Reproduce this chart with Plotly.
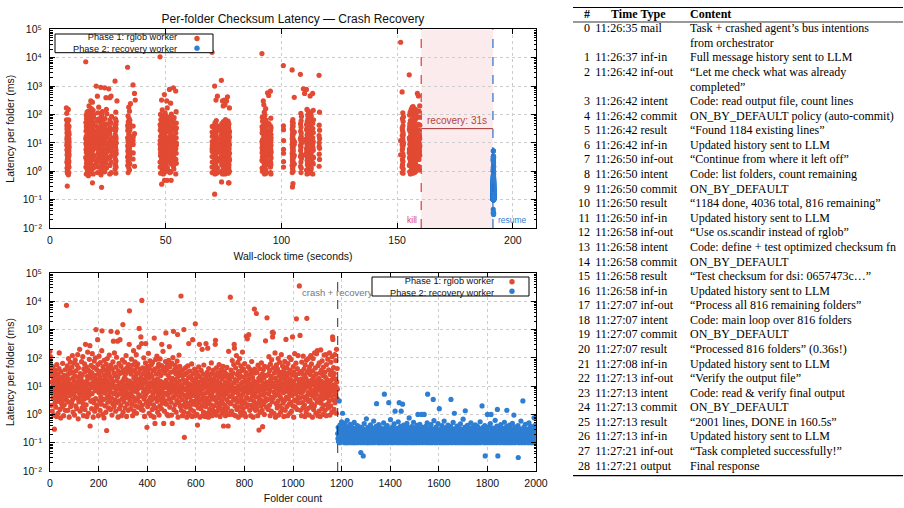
import numpy as np
import plotly.graph_objects as go

# ------------------------------------------------------------------ data
phase1_start_s = 6.9      # wall-clock second at which the rglob worker started
phase2_start_s = 191.5    # wall-clock second at which the recovery worker started
kill_s = 160.4            # worker killed
resume_s = 191.4          # recovery worker resumed
crash_folder = 1184       # folders finished before the crash

series_names = ["Phase 1: rglob worker", "Phase 2: recovery worker"]

# per-folder checksum latency (ms), phase 1, in completion order
phase1_latency_ms = [
    # batch 1
    170, 65, 110, 40, 8.2, 2.1, 14, 31, 5.6, 1.3, 22, 9.4, 3.8, 48, 12, 0.95, 17, 6.1, 0.30, 25,
    7.7, 2.6, 36, 11, 1.8, 4.5, 19, 0.85, 58, 13, 3.2, 8.9, 27, 1.1, 6.4, 15, 2.9, 42, 150, 5.1,
    9.8, 1.5, 21, 3.6, 0.75, 33, 7.2, 12, 2.4, 18, 4.8, 1.9, 64, 10, 3.3, 6.8, 0.9, 24, 8.5, 2.2,
    14, 5.3, 38, 1.4, 11, 3.9, 20, 7.1,
    # batch 2
    7200, 14, 3.1, 52, 9.6, 1.4, 26, 5.8, 95, 2.7, 17, 0.8, 38, 8.3, 4.6, 71, 12, 1.9, 29, 6.2,
    10, 2.5, 47, 7.9, 120, 3.3, 19, 1.2, 31, 9.1, 5.2, 66, 15, 0.95, 23, 4.1, 84, 11, 2.0, 35,
    6.7, 13, 1.6, 57, 8.8, 3.7, 130, 21, 0.7, 44, 9.9, 2.8, 16, 5.5, 200, 12, 1.3, 28, 7.4, 3.0,
    18, 4.4, 73, 10, 1.7, 25, 6.0, 110, 2.4, 14, 0.9, 41, 8.0, 3.5, 62, 11, 1.5, 33, 300, 5.0,
    9.3, 2.2, 48, 15, 0.85, 22, 7.0, 160, 3.9, 12, 1.1, 36, 6.6, 4.8, 89, 19, 270, 0.39, 27, 8.6,
    2.9, 54, 11, 1.6, 30, 5.4, 140, 13, 3.2, 20, 0.8, 46, 9.0, 2.6, 77, 16, 1.3, 24, 6.9, 100,
    3.6, 1000, 12, 1.8, 39, 7.6, 2.1, 17, 440, 58, 10, 0.9, 28, 5.9, 115, 14, 3.0, 21, 1.4, 68,
    8.1, 4.3, 34, 11, 2.3, 180, 900, 6.3, 16, 1.0, 49, 9.5, 3.4, 25, 0.75, 82, 13, 5.7, 37, 2.0,
    19, 7.2, 1.2, 60, 10, 0.27, 26, 4.0, 95, 15, 2.7, 43, 8.4, 1.7, 31, 5.1, 125, 12, 3.1, 22,
    6.5, 1.5, 55, 870, 9.2, 3.8, 18, 0.95, 40, 11, 2.4, 72, 14, 390, 5.5, 29, 1.9, 150, 8.7, 3.3,
    24, 6.0, 1.3, 47, 10, 2.6, 105, 16, 4.7, 800, 390, 21, 0.8, 35, 7.8, 3.0, 64, 12, 1.6, 28,
    440, 5.3, 13, 2.1, 50, 9.4, 0.9, 30, 6.8, 3.6, 85, 15, 1500, 1.2, 38, 8.2, 2.8, 19, 4.9, 70,
    11, 1.7, 26, 7.0, 3.9, 120, 17, 0.85, 44, 9.8, 2.3, 32, 5.6, 14, 1.4, 58, 10, 4.2, 300,
    # batch 3
    4600, 15, 3.2, 41, 8.0, 1.6, 27, 5.2, 90, 11, 2.3, 34, 6.9, 0.9, 55, 13, 4.1, 180, 20, 1.3,
    9.7, 36, 3.0, 72, 14, 2.0, 25, 6.4, 130, 1.1, 18, 48, 7.5, 3.6, 62, 10, 1.8, 29, 5.0, 240,
    1100, 12, 2.7, 39, 8.8, 16, 4.4, 550, 21, 1.5, 320,
    # batch 4
    10700, 9.0, 2.1, 44, 12, 1.4, 28, 6.1, 100, 3.5, 17, 0.85, 38, 7.7, 4.5, 66, 320, 14, 2.6, 23,
    5.8, 0.35, 51, 10, 1.9, 31, 8.3, 145, 3.1, 19, 1.1, 42, 6.7, 2.4, 78, 13, 4.0, 26, 0.9, 57,
    9.4, 3.3, 22, 1.5, 69, 11, 5.2, 35, 2.2, 16, 0.8, 500, 7.1, 40, 0.48, 14, 3.8, 88, 9.9, 1.7,
    27, 6.3, 115, 2.9, 18, 1.2, 47, 8.5, 4.7, 60, 12, 0.95, 33, 5.4, 2.0, 92, 15, 3.4, 24, 7.0,
    1.6, 53, 300, 10, 2.5, 37, 6.0, 170, 4.2, 13, 0.48, 45, 8.7, 1.3, 29, 11, 3.0, 74, 5.6, 760,
    16, 2.3, 39, 9.2, 1.0, 58, 12, 4.9, 25, 0.9, 82, 7.3, 3.5, 250, 20, 1.8, 48, 10, 5.8, 31,
    2.7, 14, 0.95, 65, 8.0, 0.48, 19, 3.9, 102, 11, 870, 6.6, 1.5, 36, 4.4, 17, 2.2, 54, 9.6, 28,
    5.1, 1.2, 43, 13, 3.1, 77, 7.9, 670, 22, 0.8, 30, 6.2, 2.6, 125, 15, 4.3, 50, 10, 1.9, 34,
    8.4,
    # batch 5
    15400, 6.2, 1.4, 24, 3.3, 11, 0.9, 38, 5.0, 2.1, 17, 8.0, 1000, 1.2, 0.155, 26, 4.6, 13, 2.8, 45,
    7.4, 1.8, 15, 3.9, 0.8, 30, 9.1, 2.5, 52, 5.5, 1.1, 20, 320, 6.8, 2.0, 12, 0.95, 34, 4.2, 8.6,
    1.5, 22, 5.9, 3.0, 61, 10, 0.85, 17, 440, 2.3, 7.0, 28, 1.3, 4.7, 14, 2.9, 40, 9.3, 0.9, 1600,
    6.1, 19, 2.2, 11, 33, 3.6, 1.0, 8.2, 0.42, 25, 4.9, 14, 1.7, 48, 7.1, 2.6, 300, 10, 0.8, 21,
    3.4, 9.0, 1.6, 36, 5.3, 15, 2.0, 200, 7.7, 0.9, 27, 4.0, 12, 1.2, 56, 8.9, 2.7, 18, 3.1, 0.85,
    13, 5.6, 1.9, 320, 23, 3.7, 9.6, 1.1, 31, 6.4, 220, 2.4, 16, 0.8, 42, 7.3, 3.0, 11, 1.5, 26,
    4.5, 1.0, 19, 8.1, 2.2, 66, 5.1, 14, 0.9, 29, 3.5, 10, 1.4, 37, 6.6, 2.0, 17, 4.0, 9.8, 1.2,
    24, 300, 420, 3.2, 12, 0.95, 44, 7.6, 2.6, 15, 1.3, 30, 5.2, 9.4, 1.8, 21, 3.9, 58, 6.9, 2.3,
    13, 0.85, 27, 4.8, 1.6, 11, 39, 3.0, 8.3, 1.1, 18, 5.7, 2.4, 50, 10, 0.39, 22, 4.1, 1.5, 33,
    7.0, 2.1, 14, 0.9, 28, 5.4, 1.3, 9.9, 3.3, 46, 12, 1.7, 20, 6.3, 0.39, 2.8, 170, 8.5, 1.0, 25,
    4.3, 16, 2.5,
    # batch 6
    14000, 11, 2.4, 37, 6.8, 1.3, 22, 4.5, 80, 9.1, 1.0, 29, 5.7, 3.2, 58, 13, 300, 220, 7.9, 2.0,
    17, 0.9, 44, 8.6, 3.7, 120, 15, 1.5, 26, 6.0, 2.7, 69, 10, 0.8, 33, 4.9, 1.8, 19, 95, 3.1,
    8.0, 24, 1.2, 52, 12, 4.2, 0.95, 36, 7.2, 2.3, 160, 14, 5.3, 1.6, 41, 9.5, 3.0, 21, 1.1, 63,
    6.5, 2.6, 16, 0.85, 30, 8.8, 580, 4.0, 11, 1.9, 470, 25, 5.8, 2.2, 48, 13, 660, 3.5, 18, 7.4,
    1.4, 39, 10, 3.3, 0.9, 27, 6.1, 2.1, 74, 12, 4.4, 1.7, 20, 8.3, 0.8, 34, 5.0, 15, 2.9,
    # batch 7
    5300, 40, 29, 5.9, 4.3, 1.4, 12, 2.2,
    # batch 8
    3700, 8.7, 1.6, 31, 4.2, 14, 0.9, 55, 6.6, 2.5, 19, 0.28, 10, 3.4, 42, 7.5, 1.2, 23, 5.0, 2.0,
    16, 66, 3.1, 9.9, 1.4, 27, 0.37, 12, 4.8, 38, 2.2, 7.0, 20, 1.0, 50, 5.6, 13, 2.9, 400, 9.0,
    3.6, 24, 1.8, 11,
    # batch 9
    2600, 14, 3.3, 47, 8.1, 1.5, 26, 5.4, 110, 12, 2.1, 36, 7.0, 0.9, 60, 17, 4.0, 22, 1.3, 85,
    9.6, 2.8, 800, 550, 13, 3.7, 760, 44, 6.2, 1.1, 29, 10, 4.6, 150, 19, 0.8, 33, 7.8, 2.4, 57,
    5.0, 15, 1.7, 41, 11, 3.0, 95, 8.4, 0.95, 24, 6.5, 2.0, 70, 13, 4.4, 31, 1.2, 18, 9.2, 130,
    3.5, 27, 7.4, 1.6, 52, 12, 2.5, 20, 5.9, 0.85, 39, 9.9, 3.1, 75, 16, 1.4, 28, 6.7, 450, 11,
    4.1, 46, 1.9, 21, 8.0, 0.9, 63, 14, 3.6, 30, 6.1, 2.3, 105, 10, 1.1, 37, 5.2, 17, 2.7, 88,
    7.6, 1.3, 25, 12, 4.7, 550, 9.0, 2.0, 49, 15, 0.8, 32, 6.9, 3.2, 140, 11, 1.8, 23, 5.5, 65,
    3.0, 2400, 18, 7.3, 1.5, 42, 10, 4.0, 120, 2.6, 28, 6.4, 14,
    # batch 10
    35000, 12, 3.8, 620, 8.5, 1.4, 33, 5.6, 18, 0.9, 71, 10, 2.6, 28, 6.3, 1.7, 115, 14, 4.1, 40,
    7.7, 2.2, 23, 0.85, 56, 11, 3.4, 19, 1.2, 82, 9.3, 2500, 4.5, 30, 1.6, 15, 6.0, 95, 2.9, 37,
    13, 0.95, 48, 8.9, 3.2, 26, 1.8, 120, 11, 5.1, 61, 2.4, 17, 7.1, 0.8, 35, 4.6, 95, 12, 1.5,
    22, 6.8, 2.0, 150, 14, 3.7, 44, 9.6, 1.1, 27, 5.3, 140, 16, 2.7, 180, 10, 0.9, 53, 7.4, 3.1,
    19, 1.3, 66, 12, 4.3, 29, 0.85, 8.2, 190, 2.5, 36, 15, 5.9, 1.6, 78, 10, 3.5, 24, 1.0, 47,
    8.0, 2.1, 125, 13, 4.8, 31, 1.4, 21, 6.6, 130, 11, 0.9, 58, 3.9, 17, 7.5, 2.3, 90, 14, 5.2,
    1.7, 38, 9.1, 3.0, 150, 12, 0.95, 26, 6.1, 2.0, 70, 16, 4.4, 33, 1.2, 110, 8.8, 550, 450, 20,
    3.3, 45, 11, 1.5, 28, 6.7, 130, 2.6, 18, 5.0, 80, 9.7, 1.1, 200, 14, 3.6, 42, 7.9,
]

# per-folder checksum latency (ms), phase 2 (recovery worker, os.scandir)
phase2_latency_ms = [
    0.21, 0.14, 0.35, 0.11, 0.18, 0.27, 3.0, 0.12, 0.16, 0.42, 0.1, 0.23, 0.15, 0.31, 0.13, 0.19, 0.55, 0.12, 0.25, 0.17,
    1.1, 0.13, 0.2, 0.38, 0.11, 0.16, 0.29, 0.14, 0.1, 0.22, 0.48, 0.12, 0.18, 0.15, 0.33, 0.1, 0.24, 0.13, 0.17, 0.62,
    0.12, 0.26, 0.15, 0.1, 0.19, 0.37, 0.13, 0.21, 0.11, 0.16, 0.3, 0.14, 0.45, 0.12, 0.18, 0.1, 0.23, 0.15, 0.28, 0.13,
    0.17, 0.11, 0.34, 0.14, 0.2, 0.1, 0.25, 0.12, 0.52, 0.16, 0.13, 0.22, 0.1, 0.18, 0.31, 0.14, 0.11, 0.27, 0.15, 0.19,
    0.12, 0.4, 0.16, 0.1, 0.21, 0.13, 0.29, 0.15, 0.11, 0.18, 0.24, 0.12, 0.36, 0.14, 0.17, 0.045, 0.1, 0.2, 0.13, 0.26,
    0.15, 0.11, 0.32, 0.12, 0.19, 0.034, 0.14, 0.23, 0.1, 0.47, 0.16, 0.13, 0.2, 0.11, 0.28, 0.15, 0.12, 0.18, 0.7, 0.14,
    0.1, 0.22, 0.13, 0.17, 0.35, 0.12, 0.15, 0.1, 0.26, 0.14, 0.19, 0.11, 0.3, 0.16, 0.12, 0.43, 0.13, 0.21, 0.1, 0.18,
    0.25, 0.12, 0.14, 0.33, 0.11, 0.17, 0.2, 0.13, 0.58, 0.15, 0.1, 0.24, 0.12, 0.19, 0.28, 0.14, 0.11, 0.16, 0.38, 0.13,
    2.4, 0.15, 0.11, 0.21, 0.13, 0.29, 0.1, 0.18, 0.14, 0.44, 0.12, 0.16, 0.23, 0.1, 0.35, 0.14, 0.19, 0.12, 0.27, 0.15,
    0.11, 0.2, 0.13, 0.31, 0.16, 0.1, 0.25, 0.12, 0.17, 0.5, 0.14, 0.11, 5.2, 0.22, 0.13, 0.18, 0.1, 0.34, 0.15, 0.12,
    0.26, 0.14, 0.19, 0.11, 0.4, 0.13, 0.16, 0.1, 0.23, 0.15, 2.6, 0.12, 0.3, 0.17, 0.11, 0.21, 0.14, 0.65, 0.13, 0.18,
    0.1, 0.28, 0.12, 0.15, 0.2, 0.11, 0.36, 0.14, 0.17, 0.1, 0.24, 0.13, 0.46, 0.16, 0.12, 0.19, 1.3, 0.11, 0.27, 0.14,
    0.16, 0.12, 0.22, 0.1, 0.32, 0.15, 0.13, 0.18, 0.11, 0.55, 0.14, 0.2, 0.12, 2.6, 0.25, 0.1, 0.17, 0.13, 0.38, 0.15,
    0.11, 1.3, 0.19, 0.14, 0.29, 0.12, 0.16, 2.3, 0.1, 0.23, 0.13, 0.42, 0.15, 0.11, 0.2, 0.17, 0.12, 0.31, 0.14, 0.1,
    0.18, 0.13, 0.26, 0.11, 0.15, 0.48, 0.12, 0.21, 0.1, 0.16, 0.34, 0.14, 0.12, 0.19, 0.75, 0.13, 0.24, 0.11, 0.17, 0.15,
    0.28, 0.1, 0.14, 0.2, 0.12, 0.37, 0.16, 0.11, 0.23, 0.13, 0.18, 0.1, 0.53, 0.15, 0.12, 0.27, 0.14, 0.19, 0.11, 0.32,
    0.13, 0.17, 0.1, 0.25, 0.15, 0.12, 0.41, 0.14, 0.2, 0.11, 1.0, 0.16, 0.13, 0.3, 0.1, 0.22, 0.12, 0.18, 0.45, 0.14,
    0.11, 0.24, 0.15, 0.12, 0.19, 1.0, 0.13, 0.35, 0.1, 0.17, 0.14, 0.26, 0.12, 0.21, 0.16, 0.11, 1.0, 0.29, 0.13, 0.15,
    0.2, 0.12, 0.38, 0.1, 0.16, 0.14, 0.23, 0.11, 0.5, 0.13, 5.2, 0.18, 0.12, 0.27, 0.15, 0.1, 0.33, 0.14, 0.19, 0.12,
    0.17, 0.13, 0.25, 0.11, 0.44, 0.15, 0.1, 0.21, 0.14, 0.12, 0.31, 0.16, 0.13, 3.4, 0.19, 0.11, 0.6, 0.14, 0.23, 0.1,
    0.15, 0.28, 0.12, 0.18, 0.11, 0.36, 0.13, 0.2, 0.16, 0.1, 0.25, 0.14, 0.12, 0.47, 0.17, 0.11, 0.22, 0.13, 1.6, 0.15,
    0.12, 0.19, 0.1, 0.3, 0.14, 0.16, 0.12, 0.24, 0.11, 0.4, 0.13, 0.18, 0.15, 0.1, 0.27, 0.14, 0.21, 0.12, 0.58, 0.16,
    0.13, 0.11, 0.23, 0.15, 0.1, 0.34, 0.12, 0.17, 0.2, 0.14, 0.11, 0.29, 0.13, 0.16, 0.42, 0.1, 0.19, 0.15, 0.12, 0.26,
    0.14, 0.18, 0.11, 0.22, 0.13, 0.37, 3.4, 0.12, 0.16, 0.1, 0.25, 0.15, 0.13, 0.2, 0.11, 0.52, 0.14, 0.17, 0.12, 0.31,
    1.1, 0.13, 0.19, 0.1, 0.24, 0.15, 0.12, 0.28, 0.14, 0.11, 0.18, 0.39, 0.13, 0.16, 0.1, 0.22, 0.12, 0.33, 0.15, 0.2,
    0.11, 0.26, 0.14, 0.12, 0.17, 0.46, 0.1, 0.21, 0.13, 0.15, 0.3, 0.12, 0.19, 0.11, 0.24, 0.16, 0.68, 0.13, 0.1, 0.18,
    0.15, 0.12, 0.23, 0.14, 0.36, 1.35, 0.11, 0.17, 0.13, 0.2, 0.1, 0.28, 0.15, 0.12, 0.41, 0.14, 0.19, 0.11, 0.25, 0.13,
    0.16, 0.1, 0.32, 0.12, 0.18, 0.14, 0.22, 0.11, 0.5, 0.13, 0.15, 0.27, 0.1, 0.2, 0.12, 0.35, 0.16, 0.13, 0.11, 0.24,
    0.14, 0.19, 0.12, 0.29, 0.1, 0.16, 0.43, 0.13, 0.21, 0.11, 0.17, 0.15, 0.26, 0.12, 0.1, 0.38, 0.14, 0.18, 0.13, 0.23,
    0.11, 0.3, 0.15, 0.12, 0.2, 0.14, 0.55, 0.1, 0.17, 0.13, 0.25, 0.12, 0.19, 0.16, 2.0, 0.11, 0.34, 0.14, 0.22, 0.13,
    0.18, 0.12, 0.27, 0.1, 0.15, 0.4, 0.13, 0.034, 0.2, 0.11, 0.16, 0.24, 0.14, 0.12, 0.31, 0.1, 1.0, 0.17, 0.13, 0.21,
    0.15, 0.11, 0.36, 0.14, 0.19, 0.12, 0.23, 0.1, 0.47, 0.16, 0.13, 1.0, 0.18, 0.11, 0.28, 0.15, 0.12, 0.2, 0.14, 0.33,
    0.1, 0.22, 0.13, 0.17, 0.12, 0.3, 0.15, 0.11, 0.62, 0.14, 0.19, 0.12, 0.25, 0.16, 0.1, 0.39, 0.13, 1.5, 0.21, 0.034,
    0.14, 0.12, 0.18, 0.26, 0.11, 0.15, 0.35, 0.13, 0.2, 0.1, 0.16, 0.44, 0.12, 0.23, 0.14, 0.11, 0.29, 0.17, 0.13, 0.19,
    0.12, 0.32, 0.15, 0.1, 0.21, 0.14, 0.53, 0.11, 0.18, 0.13, 0.25, 0.16, 0.12, 0.2, 0.1, 0.37, 1.4, 0.15, 0.13, 0.24,
    0.11, 0.17, 0.14, 0.28, 0.12, 0.19, 0.1, 0.42, 0.15, 0.13, 0.22, 0.11, 0.33, 0.16, 0.12, 0.26, 0.14, 0.1, 0.18, 0.48,
    0.13, 0.2, 0.12, 0.15, 0.3, 0.95, 0.11, 0.24, 0.14, 0.17, 0.1, 0.36, 0.13, 0.19, 0.12, 0.27, 0.15, 0.11, 0.21, 0.14,
    0.16, 0.12, 0.4, 0.03, 0.13, 0.18, 0.1, 0.25, 0.15, 0.11, 0.31, 0.14, 0.2, 0.12, 0.58, 0.16, 0.13, 0.22, 0.1, 0.17,
    0.14, 0.28, 3.0, 0.12, 0.19, 0.11, 0.35, 0.15, 0.13, 0.23, 0.1, 0.17, 0.45, 0.12, 0.16, 0.26, 0.14, 0.11, 0.2, 0.13,
    0.18, 0.12, 0.3, 0.15, 0.1, 0.22, 0.14, 0.5, 0.11, 0.17, 0.13, 0.27, 0.16, 0.12, 0.38, 0.1, 0.19, 0.15, 0.24, 0.12,
    0.14, 0.21, 0.11, 0.33, 0.13, 0.17, 0.1, 0.26, 0.76, 0.15, 0.12, 0.4, 0.19, 0.14, 0.29, 0.18,
]

# agent event log (table)
table_header = ["#", "Time", "Type", "Content"]
log_index = list(range(29))
log_time = ["11:26:35", "11:26:37", "11:26:42", "11:26:42", "11:26:42", "11:26:42", "11:26:42",
            "11:26:50", "11:26:50", "11:26:50", "11:26:50", "11:26:50", "11:26:58", "11:26:58",
            "11:26:58", "11:26:58", "11:26:58", "11:27:07", "11:27:07", "11:27:07", "11:27:07",
            "11:27:08", "11:27:13", "11:27:13", "11:27:13", "11:27:13", "11:27:13", "11:27:21",
            "11:27:21"]
log_type = ["mail", "inf-in", "inf-out", "intent", "commit", "result", "inf-in",
            "inf-out", "intent", "commit", "result", "inf-in", "inf-out", "intent",
            "commit", "result", "inf-in", "inf-out", "intent", "commit", "result",
            "inf-in", "inf-out", "intent", "commit", "result", "inf-in", "inf-out",
            "output"]
log_content = [
    "Task + crashed agent\u2019s bus intentions\nfrom orchestrator",
    "Full message history sent to LLM",
    "\u201cLet me check what was already\ncompleted\u201d",
    "Code: read output file, count lines",
    "ON_BY_DEFAULT policy (auto-commit)",
    "\u201cFound 1184 existing lines\u201d",
    "Updated history sent to LLM",
    "\u201cContinue from where it left off\u201d",
    "Code: list folders, count remaining",
    "ON_BY_DEFAULT",
    "\u201c1184 done, 4036 total, 816 remaining\u201d",
    "Updated history sent to LLM",
    "\u201cUse os.scandir instead of rglob\u201d",
    "Code: define + test optimized checksum fn",
    "ON_BY_DEFAULT",
    "\u201cTest checksum for dsi: 0657473c\u2026\u201d",
    "Updated history sent to LLM",
    "\u201cProcess all 816 remaining folders\u201d",
    "Code: main loop over 816 folders",
    "ON_BY_DEFAULT",
    "\u201cProcessed 816 folders\u201d (0.36s!)",
    "Updated history sent to LLM",
    "\u201cVerify the output file\u201d",
    "Code: read & verify final output",
    "ON_BY_DEFAULT",
    "\u201c2001 lines, DONE in 160.5s\u201d",
    "Updated history sent to LLM",
    "\u201cTask completed successfully!\u201d",
    "Final response",
]

# ------------------------------------------------------------------ derived
lat1 = np.array(phase1_latency_ms, dtype=float)
lat2 = np.array(phase2_latency_ms, dtype=float)
t1 = phase1_start_s + np.cumsum(lat1) / 1000.0
t2 = phase2_start_s + np.cumsum(lat2) / 1000.0
folder1 = np.arange(len(lat1))
folder2 = crash_folder + np.arange(len(lat2))

# ------------------------------------------------------------------ style / layout
W, H = 904, 508
RED = "#e24a33"
BLUE = "#2e7ed3"
SANS = "Liberation Sans, Arial, Helvetica, sans-serif"
SERIF = "Liberation Serif, Times New Roman, serif"
AX_FONT = dict(family=SANS, size=10.5, color="#111111")
SUPERSCRIPT = str.maketrans("-0123456789", "\u207b\u2070\u00b9\u00b2\u00b3\u2074\u2075\u2076\u2077\u2078\u2079")


def px(x):
    return x / W


def py(y):
    return 1 - y / H


PLOT_X = [px(50), px(536)]
TOP_Y = [py(228), py(29.3)]
BOT_Y = [py(471), py(273)]

marker_style = dict(size=5.2, line=dict(width=0))

fig = go.Figure()
fig.add_trace(go.Scatter(x=t1, y=lat1, mode="markers", name=series_names[0],
                         marker=dict(color=RED, **marker_style), xaxis="x", yaxis="y"))
fig.add_trace(go.Scatter(x=t2, y=lat2, mode="markers", name=series_names[1],
                         marker=dict(color=BLUE, **marker_style), xaxis="x", yaxis="y"))
fig.add_trace(go.Scatter(x=folder1, y=lat1, mode="markers", name=series_names[0],
                         marker=dict(color=RED, **marker_style), xaxis="x2", yaxis="y2"))
fig.add_trace(go.Scatter(x=folder2, y=lat2, mode="markers", name=series_names[1],
                         marker=dict(color=BLUE, **marker_style), xaxis="x2", yaxis="y2"))

# ---- table as text columns on a hidden axis pair (y = line index, 0 = header)
line_num, line_time, line_type, line_content = [], [], [], []
for n, tm, ty, ct in zip(log_index, log_time, log_type, log_content):
    for j, part in enumerate(ct.split("\n")):
        line_num.append(str(n) if j == 0 else "")
        line_time.append(tm if j == 0 else "")
        line_type.append(ty if j == 0 else "")
        line_content.append(part)
n_lines = len(line_num)
TABLE_FONT = dict(family=SERIF, size=12, color="black")
col_specs = [  # (anchor x in table px, textposition, column texts)
    (17, "middle left", line_num),
    (64.5, "middle left", line_time),
    (67.5, "middle right", line_type),
    (117, "middle right", line_content),
]
for (cx, pos, texts), head in zip(col_specs, table_header):
    ys = [0] + [i + 1 for i, s in enumerate(texts) if s]
    tx = ["<b>" + head + "</b>"] + [s for s in texts if s]
    fig.add_trace(go.Scatter(
        x=[cx] * len(ys), y=ys, mode="text", text=tx, textposition=pos,
        textfont=TABLE_FONT, xaxis="x3", yaxis="y3", hoverinfo="skip"))

decades = list(range(-2, 6))


def log_axis(domain, anchor):
    return dict(type="log", range=[-2, 5], tickmode="array",
                tickvals=[10.0 ** k for k in decades],
                ticktext=["10" + str(k).translate(SUPERSCRIPT) for k in decades],
                domain=domain, anchor=anchor, showline=True, linecolor="black",
                linewidth=1, mirror="allticks", ticks="inside", ticklen=5,
                tickcolor="black", automargin=False,
                minor=dict(ticks="inside", ticklen=2.5, tickcolor="black", dtick="D1",
                           showgrid=False),
                showgrid=True, gridcolor="#cccccc", griddash="dot", gridwidth=1,
                zeroline=False, tickfont=AX_FONT, ticklabelstandoff=5,
                title=dict(text="Latency per folder (ms)", font=AX_FONT, standoff=6))


def lin_axis(domain, anchor, rng, dtick, title, standoff):
    return dict(range=rng, dtick=dtick, domain=domain, anchor=anchor, showline=True,
                linecolor="black", linewidth=1, mirror="allticks", ticks="inside",
                ticklen=5, tickcolor="black", showgrid=True, gridcolor="#cccccc",
                griddash="dot", gridwidth=1, zeroline=False, tickfont=AX_FONT,
                ticklabelstandoff=2, automargin=False,
                title=dict(text=title, font=AX_FONT, standoff=standoff))


shapes = [
    # recovery window
    dict(type="rect", xref="x", yref="y domain", x0=kill_s, x1=resume_s, y0=0, y1=1,
         fillcolor="rgba(236,112,120,0.14)", line=dict(width=0), layer="below"),
    dict(type="line", xref="x", yref="y domain", x0=kill_s, x1=kill_s, y0=0, y1=1,
         line=dict(color="#e03a3a", width=1.2, dash="dash")),
    dict(type="line", xref="x", yref="y domain", x0=resume_s, x1=resume_s, y0=0, y1=1,
         line=dict(color="#2a6fc9", width=1.2, dash="dash")),
    dict(type="line", xref="x", yref="y", x0=kill_s, x1=resume_s, y0=10 ** 1.5,
         y1=10 ** 1.5, line=dict(color="#a33030", width=1)),
    # crash marker in folder-count panel
    dict(type="line", xref="x2", yref="y2 domain", x0=crash_folder, x1=crash_folder,
         y0=0, y1=1, line=dict(color="#333333", width=1, dash="dash")),
    # table rules
    dict(type="line", xref="x3", yref="y3", x0=0, x1=330, y0=-0.5, y1=-0.5,
         line=dict(color="black", width=1.3)),
    dict(type="line", xref="x3", yref="y3", x0=0, x1=330, y0=0.5, y1=0.5,
         line=dict(color="black", width=0.8)),
    dict(type="line", xref="x3", yref="y3", x0=0, x1=330, y0=n_lines + 0.62,
         y1=n_lines + 0.62, line=dict(color="black", width=1.3)),
]

annotations = [
    dict(x=(kill_s + resume_s) / 2, y=1.5, xref="x", yref="y",
         text="recovery: %ds" % round(resume_s - kill_s), showarrow=False,
         yanchor="bottom", yshift=1, font=dict(family=SANS, size=10, color="#b04545")),
    dict(x=kill_s, y=-1.72, xref="x", yref="y", text="kill", showarrow=False,
         xanchor="right", xshift=-2, font=dict(family=SANS, size=8.5, color="#d9453f")),
    dict(x=resume_s, y=-1.72, xref="x", yref="y", text="resume", showarrow=False,
         xanchor="left", xshift=3, font=dict(family=SANS, size=8.5, color="#2f7fd0")),
    dict(x=crash_folder, y=4.3, xref="x2", yref="y2", text="crash + recovery",
         showarrow=False, font=dict(family=SANS, size=9.5, color="#777777")),
]

# custom gnuplot-style legends (text right-aligned, symbol at far right)
LEG_FONT = dict(family=SANS, size=9.2, color="#111111")
LEG_GAP = 9.6
for (bx0, by0, bx1, by1, tx, mx) in [(55, 34, 213, 52.7, 178, 197),
                                     (372, 277, 529, 296, 495, 512)]:
    cy = (by0 + by1) / 2
    shapes.append(dict(type="rect", xref="paper", yref="paper", x0=px(bx0), x1=px(bx1),
                       y0=py(by1), y1=py(by0), line=dict(color="black", width=1),
                       fillcolor="white", layer="above"))
    annotations.append(dict(x=px(tx), y=py(cy), xref="paper", yref="paper",
                            text="<br>".join(series_names), showarrow=False,
                            xanchor="right", yanchor="middle", align="right",
                            font=LEG_FONT, borderpad=0))
    for k, col in enumerate((RED, BLUE)):
        ry = cy + (k - 0.5) * LEG_GAP
        shapes.append(dict(type="circle", xref="paper", yref="paper",
                           x0=px(mx - 2.7), x1=px(mx + 2.7), y0=py(ry + 2.7),
                           y1=py(ry - 2.7), fillcolor=col, line=dict(width=0)))

fig.update_layout(
    width=W, height=H, margin=dict(l=0, r=0, t=0, b=0, autoexpand=False),
    paper_bgcolor="white", plot_bgcolor="white", showlegend=False,
    title=dict(text="Per-folder Checksum Latency \u2014 Crash Recovery",
               x=px(293), xanchor="center", y=py(19), yanchor="middle",
               font=dict(family=SANS, size=12, color="#111111")),
    xaxis=lin_axis(PLOT_X, "y", [0, 210], 50, "Wall-clock time (seconds)", 8),
    yaxis=log_axis(TOP_Y, "x"),
    xaxis2=lin_axis(PLOT_X, "y2", [0, 2000], 200, "Folder count", 7),
    yaxis2=log_axis(BOT_Y, "x2"),
    xaxis3=dict(domain=[px(573), 1], range=[0, 331], visible=False, anchor="y3",
                fixedrange=True, automargin=False),
    yaxis3=dict(domain=[py(477), py(7)], range=[n_lines + 0.71, -0.528], visible=False,
                anchor="x3", fixedrange=True, automargin=False),
    shapes=shapes, annotations=annotations,
)

fig.write_html("out.html")
